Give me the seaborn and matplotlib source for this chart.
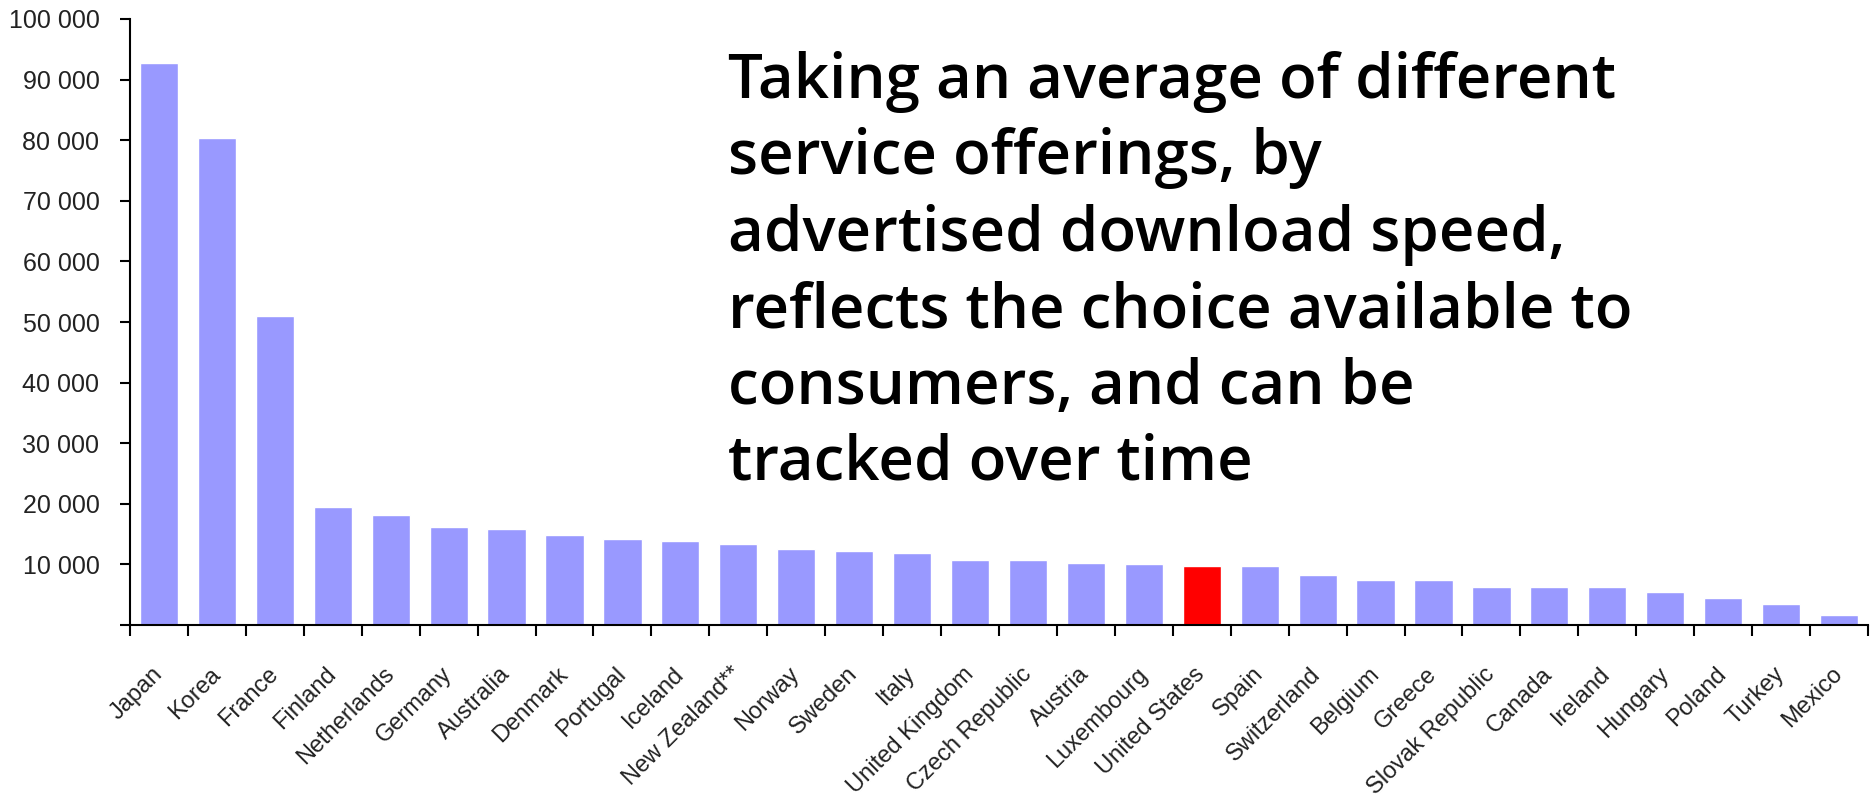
import matplotlib
matplotlib.use("Agg")
import matplotlib.pyplot as plt
import seaborn as sns
from matplotlib.ticker import FuncFormatter, FixedLocator

countries = [
    "Japan", "Korea", "France", "Finland", "Netherlands", "Germany", "Australia",
    "Denmark", "Portugal", "Iceland", "New Zealand**", "Norway", "Sweden", "Italy",
    "United Kingdom", "Czech Republic", "Austria", "Luxembourg", "United States",
    "Spain", "Switzerland", "Belgium", "Greece", "Slovak Republic", "Canada",
    "Ireland", "Hungary", "Poland", "Turkey", "Mexico",
]
speeds = [
    92700, 80400, 51000, 19500, 18200, 16100, 15800,
    14900, 14200, 13900, 13400, 12500, 12200, 11800,
    10700, 10700, 10300, 10100, 9700,
    9700, 8200, 7500, 7500, 6300, 6300,
    6300, 5400, 4400, 3500, 1600,
]
highlight = "United States"
yticks = [0, 10000, 20000, 30000, 40000, 50000, 60000, 70000, 80000, 90000, 100000]

caption_lines = [
    "Taking an average of different",
    "service offerings, by",
    "advertised download speed,",
    "reflects the choice available to",
    "consumers, and can be",
    "tracked over time",
]

sns.set_theme(style="white")
plt.rcParams["font.family"] = ["Liberation Sans", "DejaVu Sans"]

W, H, DPI = 1871, 797, 100
fig = plt.figure(figsize=(W / DPI, H / DPI), dpi=DPI)
ax = fig.add_axes([130 / W, 1 - 625 / H, (1868 - 130) / W, (625 - 19) / H])

bar_colors = ["#ff0000" if c == highlight else "#9999ff" for c in countries]
sns.barplot(x=countries, y=speeds, hue=countries, palette=bar_colors,
            legend=False, width=0.66, saturation=1, ax=ax)

ax.set_xlim(-0.5, len(countries) - 0.5)
ax.set_ylim(0, 100000)

# y axis: thousands separated by a space, no label at zero
ax.set_yticks(yticks)
ax.yaxis.set_major_formatter(FuncFormatter(
    lambda v, p: "" if v == 0 else f"{int(v):,}".replace(",", " ")))
ax.tick_params(axis="y", direction="out", length=7, width=1.5, color="black",
               labelsize=18, pad=15, left=True, labelcolor="#222222")

# x axis: ticks between categories, labels slanted under each bar
ax.xaxis.set_minor_locator(FixedLocator([i - 0.5 for i in range(len(countries) + 1)]))
ax.tick_params(axis="x", which="minor", direction="out", length=8, width=1.5,
               color="black", bottom=True)
ax.tick_params(axis="x", which="major", length=0, pad=33, labelsize=17,
               labelcolor="#222222")
for lab in ax.get_xticklabels():
    lab.set_rotation(45)
    lab.set_ha("right")
    lab.set_va("center")
    lab.set_rotation_mode("anchor")

for side in ["top", "right"]:
    ax.spines[side].set_visible(False)
for side in ["left", "bottom"]:
    ax.spines[side].set_color("black")
    ax.spines[side].set_linewidth(1.5)
ax.grid(False)
ax.set_xlabel("")
ax.set_ylabel("")

# caption block to the right of the tall bars
x0 = 728 / W
base0 = 98
step = 76.4
for i, line in enumerate(caption_lines):
    fig.text(x0, 1 - (base0 + i * step) / H, line, fontsize=44.5,
             family=["Open Sans", "DejaVu Sans"], fontweight="semibold",
             va="baseline", ha="left", color="black")

fig.savefig("out.png", dpi=DPI, facecolor="white")
